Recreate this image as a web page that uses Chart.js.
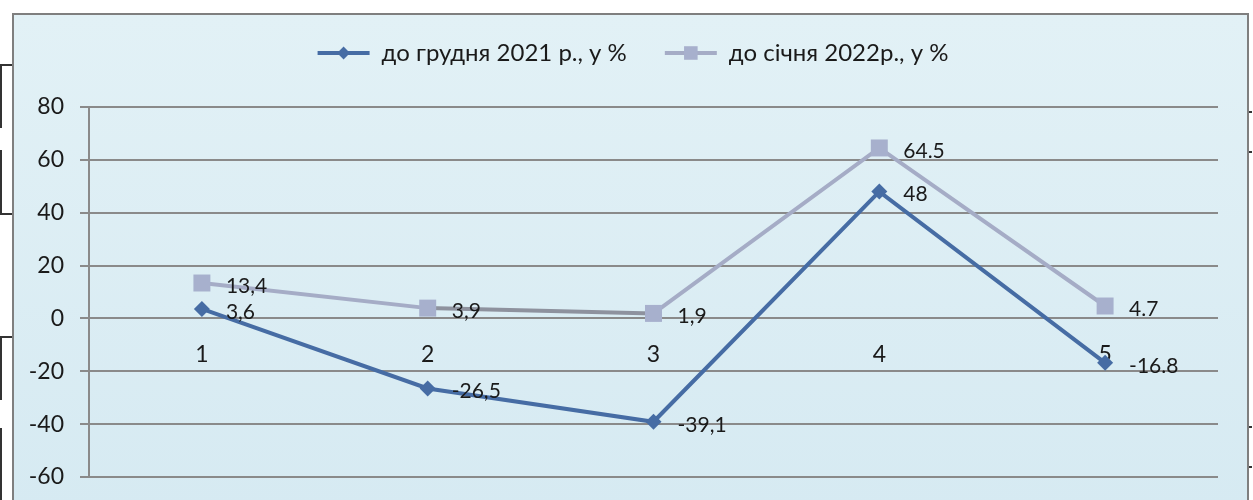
<!DOCTYPE html>
<html lang="uk">
<head>
<meta charset="utf-8">
<title>Індекси</title>
<script src="https://cdn.jsdelivr.net/npm/chart.js@4.4.1/dist/chart.umd.min.js"></script>
<style>
  html, body { margin: 0; padding: 0; background: #fff; width: 1253px; height: 500px; overflow: hidden; }
  .frame {
    position: absolute; left: 12px; top: 13px; width: 1233px; height: 495px;
    border: 2px solid #7f7f7f; border-bottom: none;
    background: linear-gradient(#e2f1f6, #d6eaf2);
  }
  .edge { position: absolute; border: 0 solid #333; }
  #wrap { position: absolute; left: 0; top: 0; width: 1253px; height: 500px; }
</style>
</head>
<body>
<div class="edge" style="left:0;top:64px;width:10px;height:62px;border-left-width:2px;border-top-width:2px;"></div>
<div class="edge" style="left:0;top:150px;width:10px;height:63px;border-left-width:2px;border-bottom-width:2px;"></div>
<div class="edge" style="left:0;top:336px;width:10px;height:62px;border-left-width:2px;border-top-width:2px;"></div>
<div class="edge" style="left:0;top:428px;width:10px;height:72px;border-left-width:2px;"></div>
<div class="edge" style="left:1248px;top:111px;width:4px;height:0;border-top-width:2px;"></div>
<div class="edge" style="left:1248px;top:151px;width:4px;height:0;border-top-width:2px;"></div>
<div class="edge" style="left:1248px;top:426px;width:4px;height:0;border-top-width:2px;"></div>
<div class="edge" style="left:1248px;top:466px;width:4px;height:0;border-top-width:2px;"></div>
<div class="frame"></div>
<div id="wrap"><canvas id="chart"></canvas></div>
<script>
const categories = ['1', '2', '3', '4', '5'];
const seriesNames = ['до грудня 2021 р., у %', 'до січня 2022р., у %'];
const decemberValues = [3.6, -26.5, -39.1, 48, -16.8];
const januaryValues = [13.4, 3.9, 1.9, 64.5, 4.7];
// decimal separator used in each point's label
const decemberSeparators = [',', ',', ',', '', '.'];
const januarySeparators = [',', ',', ',', '.', '.'];
const yMin = -60, yMax = 80, yStep = 20;

const FONT = 'Lato, "Liberation Sans", sans-serif';

// value labels to the right of each point
const pointLabels = {
  id: 'pointLabels',
  afterDatasetsDraw(chart) {
    const ctx = chart.ctx;
    ctx.save();
    ctx.font = '21px ' + FONT;
    ctx.fillStyle = '#1a1a1a';
    ctx.textBaseline = 'middle';
    ctx.textAlign = 'left';
    chart.data.datasets.forEach((ds, i) => {
      chart.getDatasetMeta(i).data.forEach((pt, j) => {
        const text = String(ds.data[j]).replace('.', ds.separators[j]);
        ctx.fillText(text, pt.x + 24, pt.y + 3);
      });
    });
    ctx.restore();
  }
};

// put the series marker on top of each legend line sample
const legendMarkers = {
  id: 'legendMarkers',
  afterDraw(chart) {
    const legend = chart.legend;
    const ctx = chart.ctx;
    const boxWidth = legend.options.labels.boxWidth;
    legend.legendHitBoxes.forEach((box, i) => {
      const ds = chart.data.datasets[i];
      ctx.save();
      ctx.fillStyle = ds.pointBackgroundColor;
      Chart.helpers.drawPoint(ctx, {
        pointStyle: ds.pointStyle,
        radius: ds.pointRadius * 0.8,
        rotation: 0,
        borderWidth: 0
      }, box.left + boxWidth / 2, box.top + box.height / 2);
      ctx.restore();
    });
  }
};

new Chart(document.getElementById('chart'), {
  type: 'line',
  data: {
    labels: categories,
    datasets: [
      {
        label: seriesNames[0],
        data: decemberValues,
        separators: decemberSeparators,
        borderColor: '#466ca4',
        backgroundColor: '#466ca4',
        pointBackgroundColor: '#466ca4',
        pointBorderWidth: 0,
        pointStyle: 'rectRot',
        pointRadius: 8,
        borderWidth: 4,
        tension: 0,
        order: 1
      },
      {
        label: seriesNames[1],
        data: januaryValues,
        separators: januarySeparators,
        borderColor: '#a5acc6',
        backgroundColor: '#a5acc6',
        pointBackgroundColor: '#a7b0cd',
        pointBorderWidth: 0,
        pointStyle: 'rect',
        pointRadius: 12,
        borderWidth: 4,
        tension: 0,
        order: 2,
        segment: {
          borderColor: c => c.p0DataIndex === 1 ? '#8e929e' : undefined
        }
      }
    ]
  },
  options: {
    responsive: true,
    maintainAspectRatio: false,
    animation: false,
    layout: { padding: { left: 13, right: 0, top: 3, bottom: 23 } },
    plugins: {
      tooltip: { enabled: false },
      legend: {
        position: 'top',
        labels: {
          boxWidth: 52,
          boxHeight: 4,
          padding: 38,
          color: '#1a1a1a',
          font: { family: FONT, size: 24 },
          generateLabels(chart) {
            return Chart.defaults.plugins.legend.labels.generateLabels(chart)
              .map(item => ({ ...item, fillStyle: item.strokeStyle, lineWidth: 0 }));
          }
        }
      },
      // empty subtitle used as a gap between the legend and the plot
      subtitle: {
        display: true,
        text: '',
        weight: 500,
        font: { size: 10 },
        padding: 10
      }
    },
    scales: {
      x: {
        position: { y: 0 },
        offset: true,
        grid: { display: false, drawTicks: false },
        border: { display: false },
        ticks: { padding: 22, color: '#1a1a1a', font: { family: FONT, size: 23 } }
      },
      y: {
        min: yMin,
        max: yMax,
        ticks: { stepSize: yStep, padding: 16, color: '#1a1a1a', font: { family: FONT, size: 23 } },
        grid: { color: '#8a8a8a', lineWidth: 2, tickLength: 9 },
        border: { color: '#8a8a8a', width: 2 },
        afterFit(scale) {
          scale.width = 76;
          // the end labels may overhang the plot; the layout padding covers them
          scale.paddingTop = 0;
          scale.paddingBottom = 0;
        }
      },
      // empty right-hand axis that keeps the gap after the plot
      yRight: {
        type: 'linear',
        position: 'right',
        ticks: { display: false },
        grid: { display: false, drawTicks: false },
        border: { display: false },
        afterFit(scale) { scale.width = 35; }
      }
    }
  },
  plugins: [pointLabels, legendMarkers]
});
</script>
</body>
</html>
